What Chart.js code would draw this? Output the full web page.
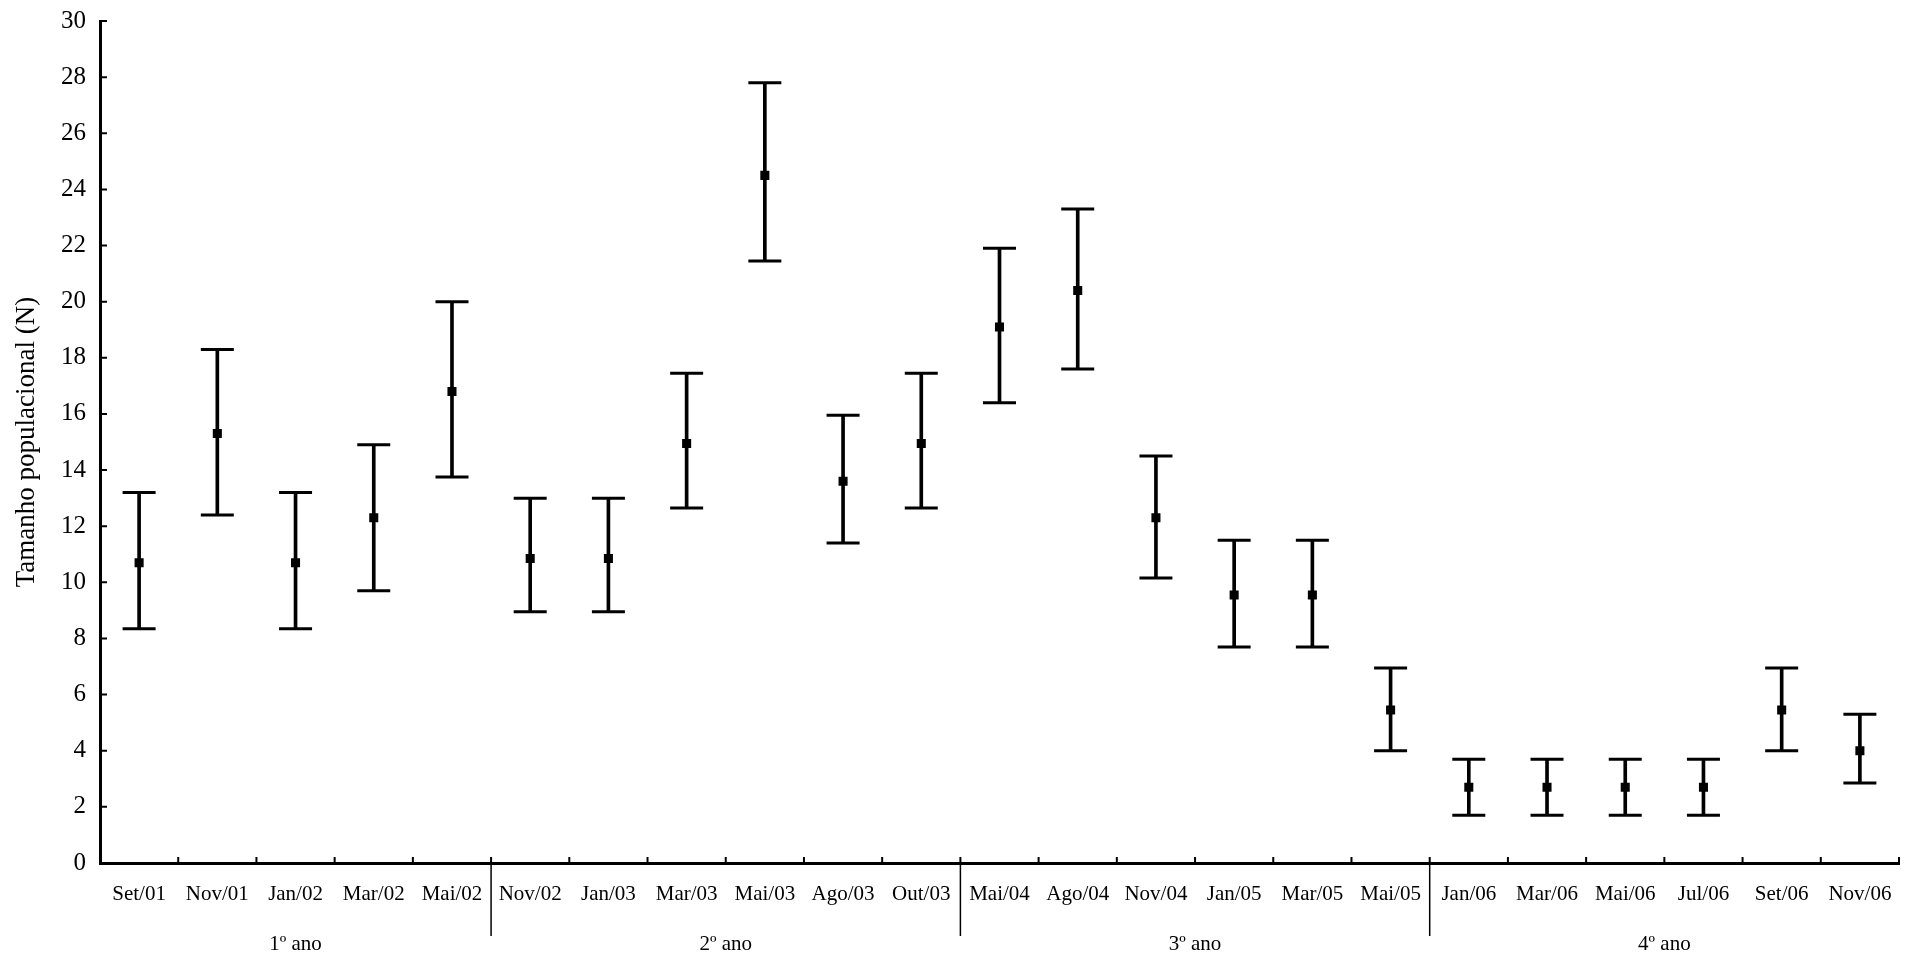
<!DOCTYPE html>
<html>
<head>
<meta charset="utf-8">
<script src="https://cdn.jsdelivr.net/npm/chart.js@4.4.0/dist/chart.umd.min.js"></script>
<style>
  html, body { margin: 0; padding: 0; background: #fff; }
  #wrap { width: 1912px; height: 957px; position: relative; }
</style>
</head>
<body>
<div id="wrap"><canvas id="chart"></canvas></div>
<script>
const months = ['Set/01', 'Nov/01', 'Jan/02', 'Mar/02', 'Mai/02',
    'Nov/02', 'Jan/03', 'Mar/03', 'Mai/03', 'Ago/03', 'Out/03',
    'Mai/04', 'Ago/04', 'Nov/04', 'Jan/05', 'Mar/05', 'Mai/05',
    'Jan/06', 'Mar/06', 'Mai/06', 'Jul/06', 'Set/06', 'Nov/06'];
const meanN = [10.7, 15.3, 10.7, 12.3, 16.8,
    10.85, 10.85, 14.95, 24.5, 13.6, 14.95,
    19.1, 20.4, 12.3, 9.55, 9.55, 5.45,
    2.7, 2.7, 2.7, 2.7, 5.45, 4.0];
const upperN = [13.2, 18.3, 13.2, 14.9, 20.0,
    13.0, 13.0, 17.45, 27.8, 15.95, 17.45,
    21.9, 23.3, 14.5, 11.5, 11.5, 6.95,
    3.7, 3.7, 3.7, 3.7, 6.95, 5.3];
const lowerN = [8.35, 12.4, 8.35, 9.7, 13.75,
    8.95, 8.95, 12.65, 21.45, 11.4, 12.65,
    16.4, 17.6, 10.15, 7.7, 7.7, 4.0,
    1.7, 1.7, 1.7, 1.7, 4.0, 2.85];
const yearNames = ['1º ano', '2º ano', '3º ano', '4º ano'];
const monthsPerYear = [5, 6, 6, 6];

const serif = '"Liberation Serif", "Times New Roman", serif';

// ticks pointing into the plot, year dividers and year captions under the months
const yearAxisPlugin = {
    id: 'yearAxis',
    afterDraw(chart) {
        const { ctx, chartArea, scales: { x, y } } = chart;
        const half = (x.getPixelForValue(1) - x.getPixelForValue(0)) / 2;
        ctx.save();
        ctx.strokeStyle = '#000';
        ctx.lineWidth = 2;
        ctx.beginPath();
        y.ticks.forEach(t => {
            const py = y.getPixelForValue(t.value);
            ctx.moveTo(chartArea.left, py);
            ctx.lineTo(chartArea.left + 7, py);
        });
        for (let i = 0; i < months.length; i++) {
            const px = x.getPixelForValue(i) + half;
            ctx.moveTo(px, chartArea.bottom);
            ctx.lineTo(px, chartArea.bottom - 6);
        }
        ctx.stroke();

        ctx.lineWidth = 1.5;
        ctx.font = '21px ' + serif;
        ctx.fillStyle = '#000';
        ctx.textAlign = 'center';
        ctx.textBaseline = 'middle';
        let start = 0;
        monthsPerYear.forEach((n, k) => {
            const left = x.getPixelForValue(start) - half;
            const right = x.getPixelForValue(start + n - 1) + half;
            ctx.fillText(yearNames[k], (left + right) / 2, chartArea.bottom + 81);
            if (k < monthsPerYear.length - 1) {
                ctx.beginPath();
                ctx.moveTo(right, chartArea.bottom);
                ctx.lineTo(right, chartArea.bottom + 73);
                ctx.stroke();
            }
            start += n;
        });
        ctx.restore();
    }
};

new Chart(document.getElementById('chart'), {
    type: 'bar',
    data: {
        labels: months,
        datasets: [
            {
                // error bar stems
                data: lowerN.map((lo, i) => [lo, upperN[i]]),
                backgroundColor: '#000',
                borderWidth: 0,
                barThickness: 3,
                order: 3
            },
            {
                type: 'line',
                data: upperN,
                showLine: false,
                pointStyle: 'line',
                pointRadius: 16.5,
                pointBorderWidth: 3,
                pointBorderColor: '#000',
                order: 2
            },
            {
                type: 'line',
                data: lowerN,
                showLine: false,
                pointStyle: 'line',
                pointRadius: 16.5,
                pointBorderWidth: 3,
                pointBorderColor: '#000',
                order: 2
            },
            {
                type: 'line',
                data: meanN,
                showLine: false,
                pointStyle: 'rect',
                pointRadius: 6.4,
                pointBorderWidth: 0,
                pointBackgroundColor: '#000',
                order: 1
            }
        ]
    },
    options: {
        responsive: true,
        maintainAspectRatio: false,
        devicePixelRatio: 1,
        animation: false,
        events: [],
        layout: { autoPadding: false, padding: { top: 21, right: 13, bottom: 0, left: 0 } },
        plugins: {
            legend: { display: false },
            tooltip: { enabled: false }
        },
        scales: {
            x: {
                offset: true,
                grid: { display: false, drawTicks: false, offset: true },
                border: { display: true, color: '#000', width: 3 },
                ticks: {
                    autoSkip: false,
                    maxRotation: 0,
                    minRotation: 0,
                    padding: 19,
                    color: '#000',
                    font: { family: serif, size: 21 }
                },
                afterFit: s => { s.height = 94; s.paddingLeft = 0; s.paddingRight = 0; }
            },
            y: {
                min: 0,
                max: 30,
                grid: { display: false, drawTicks: false },
                border: { display: true, color: '#000', width: 3 },
                ticks: {
                    stepSize: 2,
                    padding: 14,
                    color: '#000',
                    font: { family: serif, size: 25 }
                },
                title: {
                    display: true,
                    text: 'Tamanho populacional (N)',
                    color: '#000',
                    font: { family: serif, size: 27 },
                    padding: { top: 11, bottom: 0 }
                },
                afterFit: s => { s.width = 100; s.paddingTop = 0; s.paddingBottom = 0; }
            }
        }
    },
    plugins: [yearAxisPlugin]
});
</script>
</body>
</html>
